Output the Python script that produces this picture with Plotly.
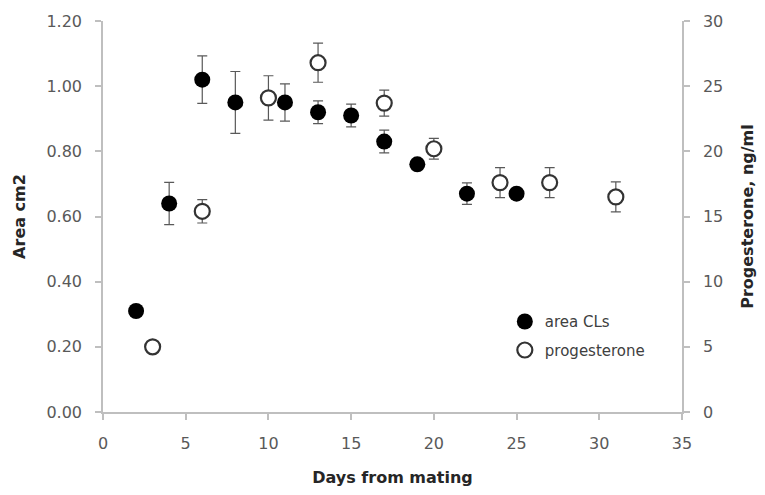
import plotly.graph_objects as go

# Area of corpora lutea (left axis)
area_days = [2, 4, 6, 8, 11, 13, 15, 17, 19, 22, 25]
area_vals = [0.31, 0.64, 1.02, 0.95, 0.95, 0.92, 0.91, 0.83, 0.76, 0.67, 0.67]
area_err = [0.0, 0.065, 0.073, 0.095, 0.057, 0.035, 0.035, 0.035, 0.015, 0.033, 0.01]

# Progesterone (right axis)
prog_days = [3, 6, 10, 13, 17, 20, 24, 27, 31]
prog_vals = [5.0, 15.4, 24.1, 26.8, 23.7, 20.2, 17.6, 17.6, 16.5]
prog_err = [0.4, 0.9, 1.7, 1.5, 1.0, 0.8, 1.15, 1.15, 1.15]

left_ticks = [0, 0.2, 0.4, 0.6, 0.8, 1.0, 1.2]
right_ticks = [0, 5, 10, 15, 20, 25, 30]
x_ticks = [0, 5, 10, 15, 20, 25, 30, 35]

FONT = "'DejaVu Sans', sans-serif"
AXIS = "#bfbfbf"
TICKC = "#595959"
TITLEC = "#262626"

fig = go.Figure()
fig.add_trace(go.Scatter(
    x=area_days, y=area_vals, mode="markers", name="area CLs", legendgroup="a",
    marker=dict(symbol="circle", size=16, color="black", line=dict(width=0)),
    error_y=dict(type="data", array=area_err, color="#595959", thickness=1.2, width=5),
))
fig.add_trace(go.Scatter(
    x=prog_days, y=prog_vals, mode="markers", name="progesterone", yaxis="y2", legendgroup="b",
    marker=dict(symbol="circle", size=15, color="white", line=dict(width=2.2, color="#333333")),
    error_y=dict(type="data", array=prog_err, color="#595959", thickness=1.2, width=5),
))

axis_common = dict(showgrid=False, zeroline=False, showline=True, linecolor=AXIS,
                   linewidth=1.5, ticks="outside", ticklen=6, tickcolor=AXIS,
                   tickwidth=1.5, automargin=False,
                   tickfont=dict(family=FONT, size=16, color=TICKC))

fig.update_layout(
    width=757, height=487,
    margin=dict(l=95, r=83, t=13, b=83),
    paper_bgcolor="white", plot_bgcolor="white",
    font=dict(family=FONT, size=15, color=TICKC),
    showlegend=True,
    legend=dict(x=0.694, y=0.273, xanchor="left", yanchor="top",
                bgcolor="rgba(0,0,0,0)", font=dict(family=FONT, size=15, color="#404040"),
                tracegroupgap=6, itemwidth=30),
    xaxis=dict(range=[0, 35], tickvals=x_ticks, ticklabelstandoff=10,
               title=dict(text="<b>Days from mating</b>", font=dict(family=FONT, size=16, color=TITLEC), standoff=20),
               **axis_common),
    yaxis=dict(range=[0, 1.2], tickvals=left_ticks, tickformat=".2f", ticklabelstandoff=10,
               title=dict(text="<b>Area cm2</b>", font=dict(family=FONT, size=16, color=TITLEC), standoff=17),
               **axis_common),
    yaxis2=dict(range=[0, 30], tickvals=right_ticks, overlaying="y", side="right", ticklabelstandoff=10,
                title=dict(text="<b>Progesterone, ng/ml</b>", font=dict(family=FONT, size=16, color=TITLEC), standoff=19),
                **axis_common),
)

fig.write_html("out.html")
